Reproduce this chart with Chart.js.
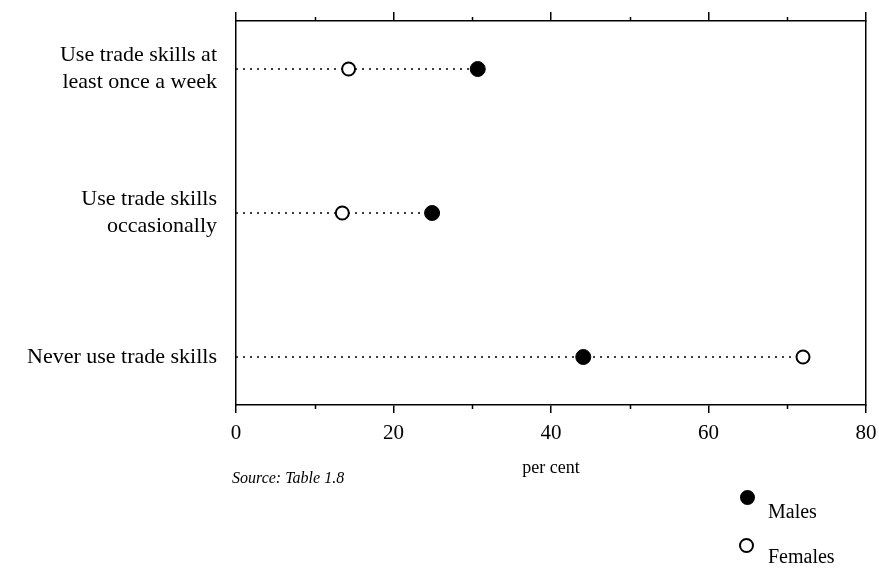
<!DOCTYPE html>
<html>
<head>
<meta charset="utf-8">
<script src="https://cdn.jsdelivr.net/npm/chart.js@4"></script>
<style>
  html, body { margin: 0; padding: 0; background: #fff; }
  #wrap { position: relative; width: 879px; height: 572px; font-family: "Liberation Serif", "Times New Roman", serif; color: #000; }
  canvas { position: absolute; left: 0; top: 0; }
  .note { position: absolute; left: 232px; top: 469px; font-style: italic; font-size: 16px; }
  .leg { position: absolute; font-size: 20px; line-height: 1; }
  .dot { position: absolute; width: 15px; height: 15px; border-radius: 50%; box-sizing: border-box; border: 2px solid #000; }
</style>
</head>
<body>
<div id="wrap">
  <canvas id="c" width="879" height="572"></canvas>
  <div class="note">Source: Table 1.8</div>
  <div class="dot" style="left:740px; top:490px; background:#000;"></div>
  <div class="leg" style="left:768px; top:501px;">Males</div>
  <div class="dot" style="left:739px; top:538px; background:#fff;"></div>
  <div class="leg" style="left:768px; top:546px;">Females</div>
</div>
<script>
// ---- data ----
const categories = [
  ["Use trade skills at", "least once a week"],
  ["Use trade skills", "occasionally"],
  ["Never use trade skills"]
];
const males   = [30.7, 24.9, 44.1];
const females = [14.3, 13.5, 72.0];
const xTicksMajor = [0, 20, 40, 60, 80];
const xTicksMinor = [10, 30, 50, 70];
const axisTitle = "per cent";

// ---- build ----
const rowY = i => categories.length - i; // top row gets highest value
const black = '#000';
const serif = '"Liberation Serif", "Times New Roman", serif';

const guideSets = categories.map((c, i) => ({
  label: 'guide' + i,
  data: [{x: 0, y: rowY(i)}, {x: Math.max(males[i], females[i]), y: rowY(i)}],
  showLine: true,
  borderColor: black,
  borderWidth: 1.3,
  borderDash: [2, 5],
  pointRadius: 0,
  order: 2
}));

const minorTicks = {
  id: 'minorTicks',
  afterDraw(chart) {
    const ctx = chart.ctx, x = chart.scales.x, a = chart.chartArea;
    ctx.save();
    ctx.strokeStyle = black;
    ctx.lineWidth = 1.5;
    xTicksMinor.forEach(v => {
      const px = Math.round(x.getPixelForValue(v)) + 0.5;
      ctx.beginPath();
      ctx.moveTo(px, a.bottom); ctx.lineTo(px, a.bottom + 4);
      ctx.moveTo(px, a.top); ctx.lineTo(px, a.top - 4);
      ctx.stroke();
    });
    ctx.restore();
  }
};

const noPad = s => { s.paddingTop = 0; s.paddingBottom = 0; s.paddingLeft = 0; s.paddingRight = 0; };

new Chart(document.getElementById('c'), {
  type: 'scatter',
  data: {
    datasets: [
      {
        label: 'Males',
        data: males.map((v, i) => ({x: v, y: rowY(i)})),
        backgroundColor: black,
        borderColor: black,
        borderWidth: 1,
        pointRadius: 7.5,
        order: 0
      },
      {
        label: 'Females',
        data: females.map((v, i) => ({x: v, y: rowY(i)})),
        backgroundColor: '#fff',
        borderColor: black,
        borderWidth: 2,
        pointRadius: 6.5,
        order: 1
      },
      ...guideSets
    ]
  },
  options: {
    responsive: false,
    animation: false,
    layout: { padding: { left: 0, right: 0, top: 0, bottom: 92 } },
    plugins: { legend: { display: false }, tooltip: { enabled: false } },
    scales: {
      x: {
        type: 'linear', position: 'bottom', min: 0, max: 80,
        afterBuildTicks: s => { s.ticks = xTicksMajor.map(v => ({value: v})); },
        ticks: { color: black, font: { family: serif, size: 21 }, padding: 8 },
        grid: { drawOnChartArea: false, drawTicks: true, tickLength: 8, color: black, lineWidth: 1.5 },
        border: { display: true, color: black, width: 1.5 },
        title: { display: true, text: axisTitle, color: black, font: { family: serif, size: 18 }, padding: { top: 0, bottom: 1 } },
        afterFit: s => { s.height = 75; noPad(s); }
      },
      xTop: {
        type: 'linear', position: 'top', min: 0, max: 80,
        afterBuildTicks: s => { s.ticks = xTicksMajor.map(v => ({value: v})); },
        ticks: { display: false },
        grid: { drawOnChartArea: false, drawTicks: true, tickLength: 9, color: black, lineWidth: 1.5 },
        border: { display: true, color: black, width: 1.5 },
        afterFit: s => { s.height = 21; noPad(s); }
      },
      y: {
        type: 'linear', position: 'left', min: 2/3, max: categories.length + 1/3,
        afterBuildTicks: s => { s.ticks = categories.map((c, i) => ({value: rowY(i)})); },
        ticks: {
          color: black, font: { family: serif, size: 22, lineHeight: 1.23 }, padding: 19,
          callback: v => categories[categories.length - v]
        },
        grid: { drawOnChartArea: false, drawTicks: false },
        border: { display: true, color: black, width: 1.5 },
        afterFit: s => { s.width = 236; noPad(s); }
      },
      yRight: {
        type: 'linear', position: 'right', min: 2/3, max: categories.length + 1/3,
        ticks: { display: false },
        grid: { drawOnChartArea: false, drawTicks: false },
        border: { display: true, color: black, width: 1.5 },
        afterFit: s => { s.width = 13; noPad(s); }
      }
    }
  },
  plugins: [minorTicks]
});
</script>
</body>
</html>
